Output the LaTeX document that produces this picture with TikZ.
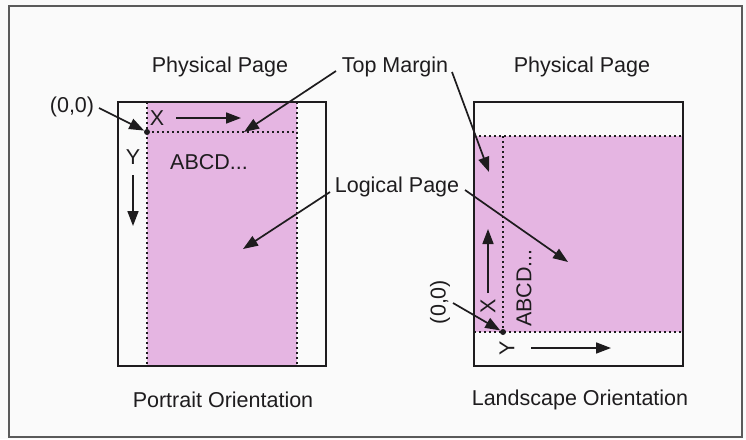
\documentclass[tikz,border=0pt]{standalone}
\usepackage{fontspec}
\setmainfont{Liberation Sans}
\usetikzlibrary{arrows.meta}
\definecolor{pinkpage}{RGB}{229,181,226}
\definecolor{inkc}{RGB}{30,28,30}
\definecolor{bgc}{RGB}{250,250,250}
\definecolor{framec}{RGB}{90,90,90}
\tikzset{
  lbl/.style={font=\fontsize{21.5}{24}\selectfont, text=inkc, inner sep=0pt},
  phys/.style={draw=inkc, line width=1.8pt},
  dots/.style={draw=inkc, line width=2.1pt, dash pattern=on 2.4pt off 2.6pt},
  ptr/.style={draw=inkc, line width=1.7pt, -{Triangle[length=15pt,width=11pt]}},
  origin/.style={circle, fill=inkc, inner sep=0pt, minimum size=6pt}
}
\begin{document}
\begin{tikzpicture}[x=1pt,y=-1pt]
\useasboundingbox (0,0) rectangle (746,439);
\fill[bgc] (0,0) rectangle (746,439);
\draw[framec, line width=1.2pt] (9,6) rectangle (742,437);

% ---------------- Portrait ----------------
\fill[pinkpage] (147,102) rectangle (297,366);
\draw[phys] (118,102) rectangle (326,366);
\draw[dots] (147,102) -- (147,366);
\draw[dots] (297,102) -- (297,366);
\draw[dots] (147,132) -- (297,132);
\node[origin] (po) at (147,132) {};

\node[lbl] (pphys) at (220,67) {Physical Page};
\node[lbl] (porient) at (223,400) {Portrait Orientation};
\node[lbl] (p00) at (72,107) {(0,0)};
\node[lbl] (pX) at (157,118) {X};
\node[lbl] (pY) at (133,157) {Y};
\node[lbl, anchor=west] (pabc) at (170,162) {ABCD...};

\coordinate (pXs) at (176,118);
\coordinate (pXe) at (241,118);
\draw[ptr] (pXs) -- (pXe);
\coordinate (pYs) at (133,175);
\coordinate (pYe) at (133,226);
\draw[ptr] (pYs) -- (pYe);
\coordinate (p00a) at (99,108);
\draw[ptr] (p00a) -- (po);

% ---------------- Landscape ----------------
\fill[pinkpage] (474,136) rectangle (683,332);
\draw[phys] (474,102) rectangle (683,366);
\draw[dots] (474,136) -- (683,136);
\draw[dots] (474,332) -- (683,332);
\draw[dots] (503,136) -- (503,332);
\node[origin] (lo) at (503,332) {};

\node[lbl] (lphys) at (582,67) {Physical Page};
\node[lbl] (lorient) at (580,400) {Landscape Orientation};
\node[lbl, rotate=90] (l00) at (440,302) {(0,0)};
\node[lbl, rotate=90] (lX) at (488,306) {X};
\node[lbl, rotate=90] (lY) at (507,348) {Y};
\node[lbl, rotate=90, anchor=west] (labc) at (524,327) {ABCD...};

\coordinate (lXs) at (488,293);
\coordinate (lXe) at (488,229);
\draw[ptr] (lXs) -- (lXe);
\coordinate (lYs) at (531,348);
\coordinate (lYe) at (611,348);
\draw[ptr] (lYs) -- (lYe);
\coordinate (l00a) at (453,303);
\draw[ptr] (l00a) -- (lo);

% ---------------- Shared labels ----------------
\node[lbl] (tm) at (395,67) {Top Margin};
\node[lbl] (lp) at (397,187) {Logical Page};

\coordinate (tmL) at (336,71);
\coordinate (tmLe) at (244,132);
\draw[ptr] (tmL) -- (tmLe);
\coordinate (tmR) at (452,72);
\coordinate (tmRe) at (489,172);
\draw[ptr] (tmR) -- (tmRe);

\coordinate (lpL) at (330,192);
\coordinate (lpLe) at (243,249);
\draw[ptr] (lpL) -- (lpLe);
\coordinate (lpR) at (465,190);
\coordinate (lpRe) at (568,262);
\draw[ptr] (lpR) -- (lpRe);
\end{tikzpicture}
\end{document}
